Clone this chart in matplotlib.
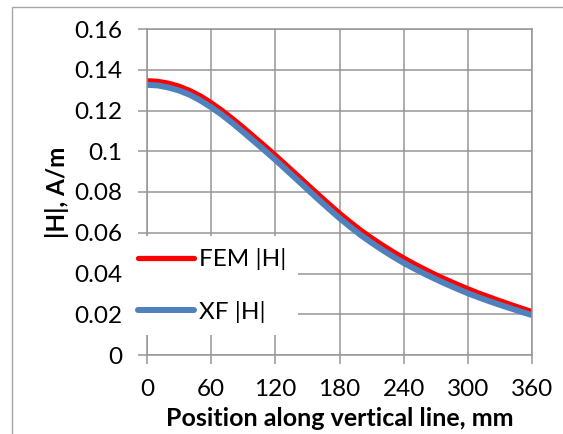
import matplotlib
matplotlib.use("Agg")
import matplotlib.pyplot as plt
from matplotlib.patches import Rectangle

position_mm = list(range(0, 361, 10))
fem_h = [0.1346, 0.1343, 0.1334, 0.1319, 0.1298, 0.1271, 0.1238, 0.1201, 0.1160, 0.1117,
         0.1072, 0.1027, 0.0981, 0.0933, 0.0885, 0.0837, 0.0789, 0.0742, 0.0696, 0.0653,
         0.0612, 0.0575, 0.0540, 0.0507, 0.0476, 0.0447, 0.0420, 0.0394, 0.0370, 0.0347,
         0.0325, 0.0304, 0.0285, 0.0266, 0.0248, 0.0230, 0.0213]
xf_h = [0.1326, 0.1323, 0.1313, 0.1298, 0.1277, 0.1249, 0.1216, 0.1179, 0.1138, 0.1094,
        0.1049, 0.1004, 0.0958, 0.0910, 0.0862, 0.0813, 0.0765, 0.0718, 0.0672, 0.0629,
        0.0588, 0.0551, 0.0516, 0.0483, 0.0452, 0.0424, 0.0397, 0.0372, 0.0348, 0.0325,
        0.0303, 0.0283, 0.0264, 0.0246, 0.0229, 0.0212, 0.0196]
x_ticks = [0, 60, 120, 180, 240, 300, 360]
y_ticks = [0, 0.02, 0.04, 0.06, 0.08, 0.1, 0.12, 0.14, 0.16]
y_tick_labels = ["0", "0.02", "0.04", "0.06", "0.08", "0.1", "0.12", "0.14", "0.16"]

plt.rcParams['font.family'] = ['Lato', 'DejaVu Sans']

W, H = 563, 434
fig = plt.figure(figsize=(W / 100, H / 100), dpi=100)
fig.patch.set_facecolor('white')

# figure border
fig.patches.append(Rectangle((12 / W, -0.1), 1.2, 1 - 7 / H + 0.1, transform=fig.transFigure,
                             fill=False, edgecolor='#a6a6a6', linewidth=1.0))

ax = fig.add_axes([147 / W, 1 - 355 / H, (532 - 147) / W, (355 - 29) / H])
grid_c = '#969696'
ax.plot(position_mm, fem_h, color='#ff0000', linewidth=3.8, label='FEM |H|',
        solid_capstyle='round', solid_joinstyle='round')
ax.plot(position_mm, xf_h, color='#4f81bd', linewidth=4.3, label='XF |H|',
        solid_capstyle='round', solid_joinstyle='round')

ax.set_xlim(0, 360)
ax.set_ylim(0, 0.16)
ax.set_xticks(x_ticks)
ax.set_yticks(y_ticks)
ax.set_yticklabels(y_tick_labels)
ax.grid(True, color=grid_c, linewidth=1.1)
ax.set_axisbelow(True)
for s in ax.spines.values():
    s.set_color(grid_c)
    s.set_linewidth(1.1)
ax.tick_params(axis='both', colors=grid_c, labelcolor='black', labelsize=17.5, length=6.5, width=1.1)
ax.tick_params(axis='y', pad=11)
ax.tick_params(axis='x', pad=11)

ax.set_xlabel('Position along vertical line, mm', fontsize=18, fontweight='bold', labelpad=5)
ax.set_ylabel('|H|, A/m', fontsize=17.5, fontweight='bold', labelpad=4)

leg = ax.legend(loc='upper left', bbox_to_anchor=(126 / W, 1 - 236 / H), bbox_transform=fig.transFigure,
                frameon=True, fancybox=False, fontsize=17.5, handlelength=2.3, handletextpad=0.2,
                labelspacing=1.25, borderpad=0.5, borderaxespad=0)
leg.get_frame().set_facecolor('white')
leg.get_frame().set_edgecolor('none')
leg.get_frame().set_alpha(1)

fig.savefig('out.png', dpi=100)
